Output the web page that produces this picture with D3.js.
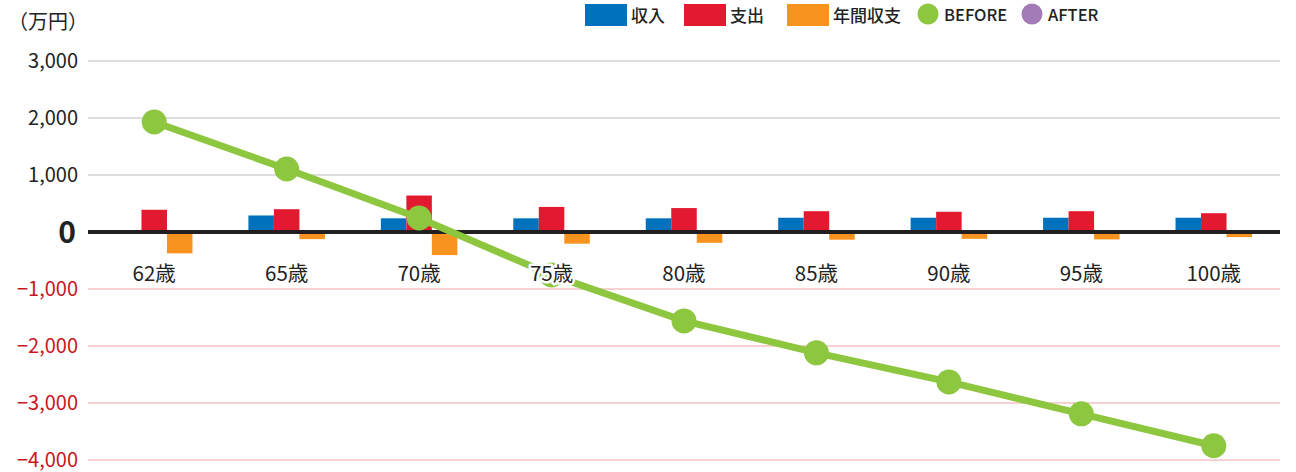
<!DOCTYPE html>
<html>
<head>
<meta charset="utf-8">
<script src="https://cdn.jsdelivr.net/npm/d3@7"></script>
<style>
  body { margin: 0; background: #fff; }
  text { font-family: "Noto Sans CJK JP", "Noto Sans", sans-serif; }
</style>
</head>
<body>
<script>
var ages = ["62歳", "65歳", "70歳", "75歳", "80歳", "85歳", "90歳", "95歳", "100歳"];
var income = [30, 290, 240, 240, 240, 250, 250, 250, 250];
var expense = [390, 400, 640, 440, 420, 365, 355, 365, 330];
var balance = [-375, -125, -405, -205, -190, -135, -120, -130, -90];
var before = [1930, 1105, 245, -755, -1560, -2120, -2630, -3190, -3750];
var yTicks = [3000, 2000, 1000, 0, -1000, -2000, -3000, -4000];

var colors = { income: "#0071bc", expense: "#e31a2f", balance: "#f7931e", before: "#8dc63f", after: "#a27bb7" };

var width = 1296, height = 472;
var svg = d3.select("body").append("svg")
  .attr("width", width).attr("height", height);

var x = d3.scaleBand().domain(ages).range([88, 1280]);
var y = d3.scaleLinear().domain([-4000, 3000]).range([460, 61]);
var barW = 25.5;

// grid
svg.append("g").selectAll("line")
  .data(yTicks.filter(function(d) { return d != 0; })).enter()
  .append("line")
  .attr("x1", 88).attr("x2", 1280)
  .attr("y1", function(d) { return y(d); })
  .attr("y2", function(d) { return y(d); })
  .style("stroke", function(d) { return d > 0 ? "#bbbbbb" : "#eba3a3"; })
  .style("stroke-width", 1.2);

// y labels
svg.append("g").selectAll("text")
  .data(yTicks).enter()
  .append("text")
  .attr("x", function(d) { return d == 0 ? 76 : 78; })
  .attr("y", function(d) { return y(d); })
  .attr("dy", "0.36em")
  .attr("text-anchor", "end")
  .style("font-size", function(d) { return d == 0 ? "30px" : "20px"; })
  .style("font-weight", function(d) { return d == 0 ? "bold" : "normal"; })
  .style("fill", function(d) { return d < 0 ? "#c8161e" : "#222"; })
  .text(function(d) { return d == 0 ? "0" : d3.format(",")(d); });

svg.append("text").attr("x", 8).attr("y", 29)
  .style("font-size", "20px").style("fill", "#222").text("（万円）");

// bars
var series = [
  { key: "income", values: income, off: -1.5 },
  { key: "expense", values: expense, off: -0.5 },
  { key: "balance", values: balance, off: 0.5 }
];
series.forEach(function(s) {
  svg.append("g").selectAll("rect")
    .data(s.values).enter()
    .append("rect")
    .attr("x", function(d, i) { return x(ages[i]) + x.bandwidth() / 2 + s.off * barW; })
    .attr("width", barW)
    .attr("y", function(d) { return y(Math.max(0, d)); })
    .attr("height", function(d) { return Math.abs(y(d) - y(0)); })
    .style("fill", colors[s.key]);
});

// zero line
svg.append("line")
  .attr("x1", 88).attr("x2", 1280)
  .attr("y1", y(0)).attr("y2", y(0))
  .style("stroke", "#231f20").style("stroke-width", 4);

// before line
var cx = function(d, i) { return x(ages[i]) + x.bandwidth() / 2; };
var line = d3.line().x(cx).y(function(d) { return y(d); });
svg.append("path").datum(before)
  .attr("d", line)
  .style("fill", "none").style("stroke", colors.before).style("stroke-width", 7);
svg.append("g").selectAll("circle")
  .data(before).enter()
  .append("circle")
  .attr("cx", cx).attr("cy", function(d) { return y(d); })
  .attr("r", 12.5).style("fill", colors.before);

// x labels
svg.append("g").selectAll("text")
  .data(ages).enter()
  .append("text")
  .attr("x", function(d) { return x(d) + x.bandwidth() / 2; })
  .attr("y", 281)
  .attr("text-anchor", "middle")
  .style("font-size", "20.5px")
  .style("fill", "#222")
  .style("stroke", "#fff").style("stroke-width", 5)
  .style("paint-order", "stroke")
  .style("stroke-linejoin", "round")
  .text(function(d) { return d; });

// legend
var legend = svg.append("g");
var rects = [
  { label: "収入", key: "income", x: 585 },
  { label: "支出", key: "expense", x: 684 },
  { label: "年間収支", key: "balance", x: 787 }
];
rects.forEach(function(r) {
  legend.append("rect").attr("x", r.x).attr("y", 4).attr("width", 42).attr("height", 22)
    .style("fill", colors[r.key]);
  legend.append("text").attr("x", r.x + 46).attr("y", 22)
    .style("font-size", "17px").style("font-weight", 500).style("fill", "#222")
    .text(r.label);
});
var dots = [
  { label: "BEFORE", key: "before", x: 928 },
  { label: "AFTER", key: "after", x: 1032 }
];
dots.forEach(function(r) {
  legend.append("circle").attr("cx", r.x).attr("cy", 14).attr("r", 10.5)
    .style("fill", colors[r.key]);
  legend.append("text").attr("x", r.x + 16).attr("y", 21)
    .style("font-size", "16.5px").style("font-weight", 500).style("fill", "#222")
    .text(r.label);
});
</script>
</body>
</html>
